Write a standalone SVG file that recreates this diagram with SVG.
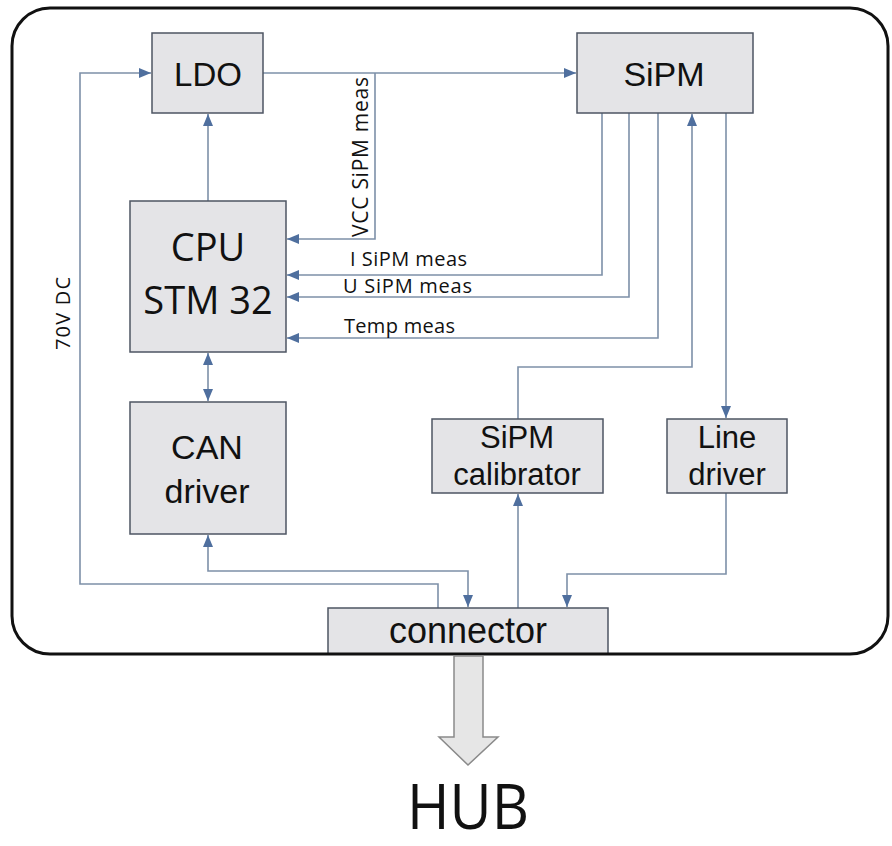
<svg xmlns="http://www.w3.org/2000/svg" width="892" height="846" viewBox="0 0 892 846">
<style>
.box{fill:#e4e4e7;stroke:#4e5563;stroke-width:1.5}
.ar{font-family:"Liberation Sans",Arial,sans-serif;fill:#111;text-anchor:middle}
.os{font-family:"Open Sans","Noto Sans",sans-serif;fill:#111}
.c{fill:none;stroke:#7d90a8;stroke-width:1.6}
</style>
<defs>
<marker id="ah" markerUnits="userSpaceOnUse" markerWidth="13" markerHeight="11" refX="12" refY="5" orient="auto-start-reverse" viewBox="0 0 13 11">
<path d="M0,0 L12,5 L0,10 z" fill="#4f6f9e"/>
</marker>
</defs>
<rect x="12" y="8" width="876" height="646" rx="38" ry="38" fill="#fff"/>
<g id="connectors">
<path class="c" d="M438,608 V584 H80 V73 H151" marker-end="url(#ah)"/>
<path class="c" d="M263,73 H576" marker-end="url(#ah)"/>
<path class="c" d="M375,73 V239 H287" marker-end="url(#ah)"/>
<path class="c" d="M208,201 V114" marker-end="url(#ah)"/>
<path class="c" d="M602,113 V275 H287" marker-end="url(#ah)"/>
<path class="c" d="M629,113 V297 H287" marker-end="url(#ah)"/>
<path class="c" d="M658,113 V338 H287" marker-end="url(#ah)"/>
<path class="c" d="M518,419 V367 H692 V114" marker-end="url(#ah)"/>
<path class="c" d="M726,113 V418" marker-end="url(#ah)"/>
<path class="c" d="M208,353 V401" marker-start="url(#ah)" marker-end="url(#ah)"/>
<path class="c" d="M208,535 V571 H468 V607" marker-start="url(#ah)" marker-end="url(#ah)"/>
<path class="c" d="M518,608 V494" marker-end="url(#ah)"/>
<path class="c" d="M726,493 V574 H567 V607" marker-end="url(#ah)"/>
<text class="os" x="350" y="266" font-size="20" textLength="117">I SiPM meas</text>
<text class="os" x="343" y="293" font-size="20" textLength="129">U SiPM meas</text>
<text class="os" x="344" y="333" font-size="20" textLength="111">Temp meas</text>
<text class="os" transform="translate(368,237) rotate(-90)" font-size="21" textLength="160">VCC SiPM meas</text>
<text class="os" transform="translate(70,350) rotate(-90)" font-size="20" textLength="73">70V DC</text>
</g>
<g id="ldo"><rect class="box" x="152" y="33" width="111" height="80"/><text class="ar" x="208" y="86" font-size="33">LDO</text></g>
<g id="sipm"><rect class="box" x="577" y="33" width="176" height="80"/><text class="ar" x="664" y="86" font-size="34">SiPM</text></g>
<g id="cpu"><rect class="box" x="130" y="201" width="156" height="151"/>
<text class="os" x="208" y="261" font-size="38" text-anchor="middle">CPU</text>
<text class="os" x="208" y="314" font-size="38" text-anchor="middle">STM 32</text></g>
<g id="can"><rect class="box" x="130" y="402" width="156" height="132"/>
<text class="ar" x="207" y="459" font-size="34">CAN</text>
<text class="ar" x="207" y="503" font-size="34">driver</text></g>
<g id="calibrator"><rect class="box" x="432" y="419" width="171" height="74"/>
<text class="ar" x="517" y="448" font-size="31">SiPM</text>
<text class="ar" x="517" y="485" font-size="31">calibrator</text></g>
<g id="linedriver"><rect class="box" x="667" y="419" width="120" height="74"/>
<text class="ar" x="727" y="448" font-size="31">Line</text>
<text class="ar" x="727" y="485" font-size="31">driver</text></g>
<g id="connector"><rect class="box" x="328" y="608" width="280" height="46"/>
<text class="ar" x="468" y="643" font-size="36">connector</text></g>
<rect x="12" y="8" width="876" height="646" rx="38" ry="38" fill="none" stroke="#111" stroke-width="3"/>
<g id="hubarrow"><path d="M454,656 H483 V737 H498 L468,765 L439,737 H454 Z" fill="#e6e6e6" stroke="#8a8a8a" stroke-width="1.5"/></g>
<g id="hub"><text class="os" x="468" y="829" font-size="62" text-anchor="middle" textLength="122" lengthAdjust="spacingAndGlyphs">HUB</text></g>
</svg>
